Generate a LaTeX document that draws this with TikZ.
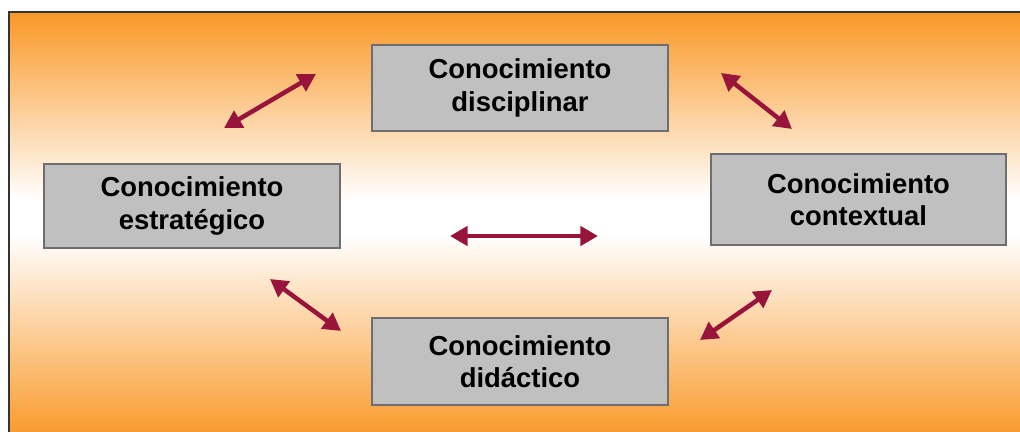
\documentclass[tikz,border=0pt]{standalone}
\usepackage{fontspec}
\setmainfont{Liberation Sans}
\usetikzlibrary{arrows.meta}
\definecolor{orng}{RGB}{249,152,38}
\definecolor{arrowred}{RGB}{152,20,58}
\definecolor{boxgray}{RGB}{192,192,192}
\definecolor{boxedge}{RGB}{110,110,110}
\tikzset{
  kbox/.style={draw=boxedge, line width=0.8pt, fill=boxgray, minimum width=296*0.025cm, align=center,
    font=\fontsize{19.5}{23}\selectfont\bfseries, inner sep=0pt},
  link/.style={draw=arrowred, line width=3.2pt, {Triangle[length=12.5pt,width=13.5pt]}-{Triangle[length=12.5pt,width=13.5pt]}}
}
\begin{document}
\begin{tikzpicture}[x=0.025cm,y=-0.025cm]
\useasboundingbox (0,0) rectangle (1020,432);
\fill[white] (0,0) rectangle (1020,432);
\shade[top color=orng, bottom color=white] (9,12) rectangle (1030,200);
\fill[white] (9,199) rectangle (1030,236);
\shade[top color=white, bottom color=orng] (9,235) rectangle (1030,440);
\draw[line width=1.2pt, black!80] (1030,12) -- (9,12) -- (9,440);
\node[kbox, minimum height=86*0.025cm] (dis) at (520,88) {Conocimiento\\disciplinar};
\node[kbox, minimum height=84*0.025cm] (est) at (192,206) {Conocimiento\\estratégico};
\node[kbox, minimum height=91*0.025cm, minimum width=295*0.025cm] (con) at (858.5,199.5) {Conocimiento\\contextual};
\node[kbox, minimum height=87*0.025cm] (did) at (520,361.5) {Conocimiento\\didáctico};
\coordinate (a1) at (224,128); \coordinate (b1) at (316,74);
\coordinate (a2) at (721,73); \coordinate (b2) at (792,129);
\coordinate (a3) at (450,236); \coordinate (b3) at (598,236);
\coordinate (a4) at (270,279); \coordinate (b4) at (341,331);
\coordinate (a5) at (700,340); \coordinate (b5) at (772,290);
\draw[link] (a1) -- (b1);
\draw[link] (a2) -- (b2);
\draw[link] (a3) -- (b3);
\draw[link] (a4) -- (b4);
\draw[link] (a5) -- (b5);
\end{tikzpicture}
\end{document}
